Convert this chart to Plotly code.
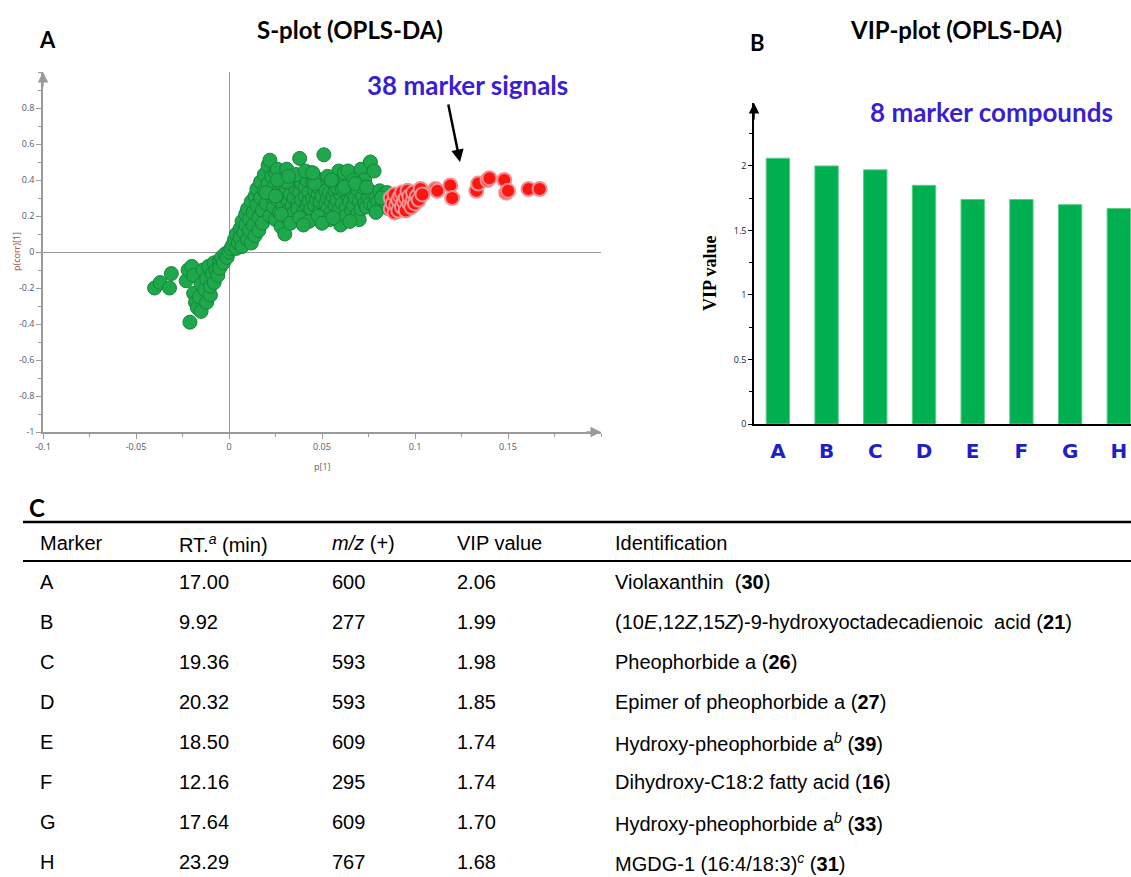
import plotly.graph_objects as go

W, H = 1131, 877

# ---------------- data ----------------
green_x = [-0.040, -0.037, -0.032, -0.031, -0.021, -0.023, -0.022, -0.020, -0.019, -0.019,
           -0.018, -0.017, -0.016, -0.015, -0.015, -0.014, -0.013, -0.012, -0.012, -0.011,
           -0.010, -0.010, -0.009, -0.008, -0.008, -0.007, -0.006, -0.005, -0.005, -0.004,
           -0.003, -0.002, -0.001, 0.000, 0.001,
           0.002, 0.003, 0.004, 0.004, 0.005, 0.006, 0.006, 0.007, 0.007, 0.008,
           0.009, 0.009, 0.010, 0.010, 0.011, 0.011, 0.012, 0.012, 0.013, 0.013,
           0.014, 0.014, 0.015, 0.015, 0.016, 0.016, 0.017, 0.017, 0.018, 0.018,
           0.019, 0.019, 0.020, 0.021, 0.021, 0.022, 0.022, 0.023, 0.023,
           0.024, 0.024, 0.025, 0.025, 0.026, 0.026, 0.027, 0.027, 0.028, 0.028,
           0.029, 0.029, 0.030, 0.030, 0.031, 0.031, 0.032, 0.032, 0.033, 0.033,
           0.034, 0.034, 0.035, 0.035, 0.036, 0.036, 0.037, 0.037, 0.038, 0.038,
           0.039, 0.039, 0.040, 0.040, 0.041, 0.041, 0.042, 0.042, 0.043, 0.043,
           0.044, 0.044, 0.045, 0.045, 0.046, 0.046, 0.047, 0.047, 0.048, 0.048,
           0.049, 0.049, 0.050, 0.050, 0.051, 0.051, 0.052, 0.052, 0.053, 0.053,
           0.054, 0.055, 0.055, 0.056, 0.057, 0.057, 0.058, 0.059, 0.059, 0.060,
           0.060, 0.061, 0.062, 0.062, 0.063, 0.063, 0.064, 0.064, 0.065, 0.066,
           0.066, 0.067, 0.068, 0.069, 0.069, 0.070, 0.070, 0.071, 0.071, 0.072,
           0.073, 0.073, 0.074, 0.075, 0.076, 0.076, 0.077, 0.078, 0.078, 0.079,
           0.080, 0.081, 0.082, 0.083, 0.084, 0.085, 0.086,
           0.028, 0.033, 0.038, 0.043, 0.048, 0.054, 0.058, 0.065, 0.072, 0.079,
           0.020, 0.025, 0.031, 0.036, 0.041, 0.046, 0.053, 0.061, 0.067, 0.082,
           0.026, 0.032, 0.045, 0.055, 0.062, 0.068, 0.074, 0.040, 0.050, 0.056]
green_y = [-0.20, -0.17, -0.20, -0.12, -0.39, -0.16, -0.10, -0.08, -0.23, -0.13,
           -0.28, -0.31, -0.25, -0.33, -0.18, -0.10, -0.21, -0.28, -0.15, -0.08,
           -0.24, -0.19, -0.12, -0.17, -0.06, -0.10, -0.13, -0.05, -0.09, -0.03,
           -0.06, -0.01, -0.03, 0.00, 0.02,
           0.04, 0.07, 0.02, 0.10, 0.05, 0.13, 0.08, 0.17, 0.03, 0.11,
           0.21, 0.15, 0.07, 0.24, 0.18, 0.12, 0.28, 0.05, 0.22, 0.15,
           0.31, 0.09, 0.26, 0.35, 0.19, 0.12, 0.39, 0.30, 0.23, 0.16,
           0.43, 0.34, 0.27, 0.48, 0.38, 0.51, 0.20, 0.31, 0.42,
           0.36, 0.25, 0.18, 0.44, 0.46, 0.29, 0.22, 0.34, 0.14, 0.38,
           0.26, 0.31, 0.10, 0.20, 0.46, 0.35, 0.28, 0.23, 0.32, 0.18,
           0.38, 0.26, 0.30, 0.22, 0.35, 0.40, 0.27, 0.24, 0.52, 0.33,
           0.38, 0.29, 0.42, 0.22, 0.31, 0.36, 0.26, 0.40, 0.33, 0.28,
           0.44, 0.24, 0.38, 0.30, 0.34, 0.26, 0.41, 0.29, 0.32, 0.36,
           0.23, 0.28, 0.39, 0.31, 0.54, 0.21, 0.34, 0.27, 0.30, 0.24,
           0.33, 0.28, 0.22, 0.31, 0.26, 0.34, 0.29, 0.45, 0.23, 0.32,
           0.15, 0.27, 0.39, 0.44, 0.25, 0.20, 0.45, 0.31, 0.28, 0.23,
           0.33, 0.26, 0.30, 0.35, 0.21, 0.18, 0.28, 0.46, 0.24, 0.31,
           0.40, 0.27, 0.25, 0.30, 0.50, 0.27, 0.33, 0.45, 0.26, 0.30,
           0.28, 0.34, 0.25, 0.32, 0.28, 0.33, 0.24,
           0.21, 0.16, 0.19, 0.17, 0.20, 0.18, 0.36, 0.17, 0.36, 0.22,
           0.33, 0.31, 0.39, 0.43, 0.45, 0.38, 0.42, 0.35, 0.40, 0.30,
           0.40, 0.42, 0.44, 0.40, 0.36, 0.38, 0.36, 0.15, 0.16, 0.19]

red_x = [0.087, 0.087, 0.088, 0.089, 0.089, 0.090, 0.091, 0.091, 0.092, 0.093,
         0.093, 0.094, 0.095, 0.095, 0.096, 0.097, 0.097, 0.098, 0.099, 0.099,
         0.100, 0.101, 0.102, 0.103, 0.104, 0.111, 0.112, 0.119, 0.120, 0.133,
         0.134, 0.139, 0.140, 0.148, 0.149, 0.150, 0.161, 0.167]
red_y = [0.24, 0.30, 0.27, 0.22, 0.32, 0.26, 0.29, 0.23, 0.31, 0.25,
         0.33, 0.28, 0.23, 0.30, 0.34, 0.27, 0.31, 0.25, 0.29, 0.33,
         0.27, 0.31, 0.29, 0.35, 0.32, 0.35, 0.34, 0.37, 0.30, 0.34,
         0.38, 0.40, 0.41, 0.40, 0.33, 0.34, 0.35, 0.35]

splot_xticks = [-0.1, -0.05, 0, 0.05, 0.1, 0.15]
splot_xticktext = ["-0.1", "-0.05", "0", "0.05", "0.1", "0.15"]
splot_yticks = [-1, -0.8, -0.6, -0.4, -0.2, 0, 0.2, 0.4, 0.6, 0.8]
splot_yticktext = ["-1", "-0.8", "-0.6", "-0.4", "-0.2", "0", "0.2", "0.4", "0.6", "0.8"]

vip_labels = ["A", "B", "C", "D", "E", "F", "G", "H"]
vip_values = [2.06, 2.00, 1.97, 1.85, 1.74, 1.74, 1.70, 1.67]
vip_yticks = [0, 0.5, 1, 1.5, 2]
vip_yticktext = ["0", "0.5", "1", "1.5", "2"]

tbl_header = ["Marker", "RT.<sup><i>a</i></sup> (min)", "<i>m/z</i> (+)", "VIP value", "Identification"]
tbl_marker = ["A", "B", "C", "D", "E", "F", "G", "H"]
tbl_rt = ["17.00", "9.92", "19.36", "20.32", "18.50", "12.16", "17.64", "23.29"]
tbl_mz = ["600", "277", "593", "593", "609", "295", "609", "767"]
tbl_vip = ["2.06", "1.99", "1.98", "1.85", "1.74", "1.74", "1.70", "1.68"]
tbl_ident = [
    "Violaxanthin  (<b>30</b>)",
    "(10<i>E</i>,12<i>Z</i>,15<i>Z</i>)-9-hydroxyoctadecadienoic  acid (<b>21</b>)",
    "Pheophorbide a (<b>26</b>)",
    "Epimer of pheophorbide a (<b>27</b>)",
    "Hydroxy-pheophorbide a<sup><i>b</i></sup> (<b>39</b>)",
    "Dihydroxy-C18:2 fatty acid (<b>16</b>)",
    "Hydroxy-pheophorbide a<sup><i>b</i></sup> (<b>33</b>)",
    "MGDG-1 (16:4/18:3)<sup><i>c</i></sup> (<b>31</b>)",
]


def X(px):
    return px / W


def Y(py):
    return 1 - py / H


fig = go.Figure()

fig.add_trace(go.Scatter(
    x=green_x, y=green_y, mode="markers", xaxis="x", yaxis="y", showlegend=False,
    marker=dict(size=14, color="#1ea84b", line=dict(color="#14853c", width=1)),
))
fig.add_trace(go.Scatter(
    x=red_x, y=red_y, mode="markers", xaxis="x", yaxis="y", showlegend=False,
    marker=dict(size=14, color="#ff1414", line=dict(color="#f09090", width=2)),
))
fig.add_trace(go.Bar(
    x=vip_labels, y=vip_values, xaxis="x2", yaxis="y2", showlegend=False, width=0.48,
    marker=dict(color="#00b050", line=dict(color="#5ccb8a", width=1)),
))

gray = "#9a9a9a"
tickfont_s = dict(family="Open Sans", size=9, color="#4d5a68")

fig.update_layout(
    width=W, height=H,
    margin=dict(l=0, r=0, t=0, b=0, autoexpand=False),
    paper_bgcolor="white", plot_bgcolor="white",
    xaxis=dict(
        domain=[X(43), X(601)], range=[-0.1, 0.2], anchor="y", automargin=False,
        showline=True, linecolor=gray, linewidth=1.5, showgrid=False,
        zeroline=True, zerolinecolor=gray, zerolinewidth=1,
        tickmode="array", tickvals=splot_xticks, ticktext=splot_xticktext,
        ticks="outside", ticklen=5, tickcolor=gray, tickfont=tickfont_s,
        minor=dict(dtick=0.025, tick0=0, ticks="outside", ticklen=3, tickcolor=gray),
    ),
    yaxis=dict(
        domain=[Y(432), Y(72)], range=[-1, 1.0], anchor="x", automargin=False,
        showline=True, linecolor=gray, linewidth=1.5, showgrid=False,
        zeroline=True, zerolinecolor=gray, zerolinewidth=1,
        tickmode="array", tickvals=splot_yticks, ticktext=splot_yticktext,
        ticks="outside", ticklen=5, tickcolor=gray, tickfont=tickfont_s,
        minor=dict(dtick=0.1, tick0=0, ticks="outside", ticklen=3, tickcolor=gray),
    ),
    xaxis2=dict(
        domain=[X(754), 1.0], range=[-0.49, 7.25], anchor="y2", automargin=False,
        showline=True, linecolor="black", linewidth=1.5, showgrid=False, zeroline=False,
        tickmode="array", tickvals=vip_labels, ticktext=["<b>%s</b>" % c for c in vip_labels],
        ticks="", ticklabelstandoff=8,
        tickfont=dict(family="DejaVu Sans", size=20, color="#1f1fc8"),
    ),
    yaxis2=dict(
        domain=[Y(424), Y(103)], range=[0, 2.488], anchor="x2", automargin=False,
        showline=True, linecolor="black", linewidth=1.5, showgrid=False, zeroline=False,
        tickmode="array", tickvals=vip_yticks, ticktext=vip_yticktext,
        ticks="outside", ticklen=4, tickcolor="black",
        tickfont=dict(family="Open Sans", size=9, color="#1a1a2e"),
        minor=dict(dtick=0.25, tick0=0, ticks="outside", ticklen=3, tickcolor="black"),
    ),
)

ann = []
title_font = dict(family="Lato", size=24, color="black")
ann.append(dict(x=X(47), y=Y(40), text="<b>A</b>", font=dict(family="Lato", size=22, color="black")))
ann.append(dict(x=X(350), y=Y(30), text="<b>S-plot (OPLS-DA)</b>", font=title_font))
ann.append(dict(x=X(757), y=Y(43), text="<b>B</b>", font=dict(family="Lato", size=22, color="black")))
ann.append(dict(x=X(956), y=Y(30), text="<b>VIP-plot (OPLS-DA)</b>", font=title_font))
ann.append(dict(x=X(467), y=Y(85), text="<b>38 marker signals</b>",
                font=dict(family="Lato", size=26, color="#3a1fd0")))
ann.append(dict(x=X(991), y=Y(112), text="<b>8 marker compounds</b>",
                font=dict(family="Lato", size=26, color="#3a1fd0")))
# arrow pointing at red markers
ann.append(dict(x=X(460), y=Y(162), ax=-12, ay=-59, text="", showarrow=True,
                arrowhead=2, arrowsize=1, arrowwidth=2.5, arrowcolor="black"))
# axis titles
ann.append(dict(x=X(17), y=Y(252), text="p(corr)[1]", textangle=-90,
                font=dict(family="Open Sans", size=9, color="#9b4a3a")))
ann.append(dict(x=X(322), y=Y(466), text="p[1]", font=dict(family="Open Sans", size=9, color="#666")))
ann.append(dict(x=X(710), y=Y(273), text="<b>VIP value</b>", textangle=-90,
                font=dict(family="Liberation Serif", size=18, color="black")))
# axis arrows
ann.append(dict(x=0.2, y=-1, xref="x", yref="y", ax=-16, ay=0, text="", showarrow=True,
                arrowhead=2, arrowsize=1.4, arrowwidth=1.5, arrowcolor=gray))
ann.append(dict(x=-0.1, y=1.0, xref="x", yref="y", ax=0, ay=16, text="", showarrow=True,
                arrowhead=2, arrowsize=1.4, arrowwidth=1.5, arrowcolor=gray))
ann.append(dict(x=-0.49, y=2.488, xref="x2", yref="y2", ax=0, ay=18, text="", showarrow=True,
                arrowhead=2, arrowsize=1.4, arrowwidth=1.5, arrowcolor="black"))

# table
ann.append(dict(x=X(27), y=Y(507), text="<b>C</b>", xanchor="left",
                font=dict(family="Lato", size=24, color="black")))
col_x = [38, 177, 330, 455, 613]
tfont = dict(family="Liberation Sans", size=20, color="black")
for cx, t in zip(col_x, tbl_header):
    ann.append(dict(x=X(cx), y=Y(543), text=t, xanchor="left", font=tfont))
for i in range(len(tbl_marker)):
    yy = 582 + 40 * i
    for cx, t in zip(col_x, [tbl_marker[i], tbl_rt[i], tbl_mz[i], tbl_vip[i], tbl_ident[i]]):
        ann.append(dict(x=X(cx), y=Y(yy), text=t, xanchor="left", font=tfont))

for a in ann:
    a.setdefault("xref", "paper")
    a.setdefault("yref", "paper")
    a.setdefault("showarrow", False)
    a.setdefault("xanchor", "center")
    a.setdefault("yanchor", "middle")
fig.update_layout(annotations=ann)

shapes = [
    dict(type="line", xref="paper", yref="paper", x0=X(23), x1=1.0, y0=Y(522), y1=Y(522),
         line=dict(color="black", width=2.5)),
    dict(type="line", xref="paper", yref="paper", x0=X(23), x1=1.0, y0=Y(561), y1=Y(561),
         line=dict(color="black", width=2)),
]
fig.update_layout(shapes=shapes)

fig.write_html(
    "out.html",
    config={"displayModeBar": False},
    post_script="document.body.style.margin='0';document.body.style.overflow='hidden';",
)
